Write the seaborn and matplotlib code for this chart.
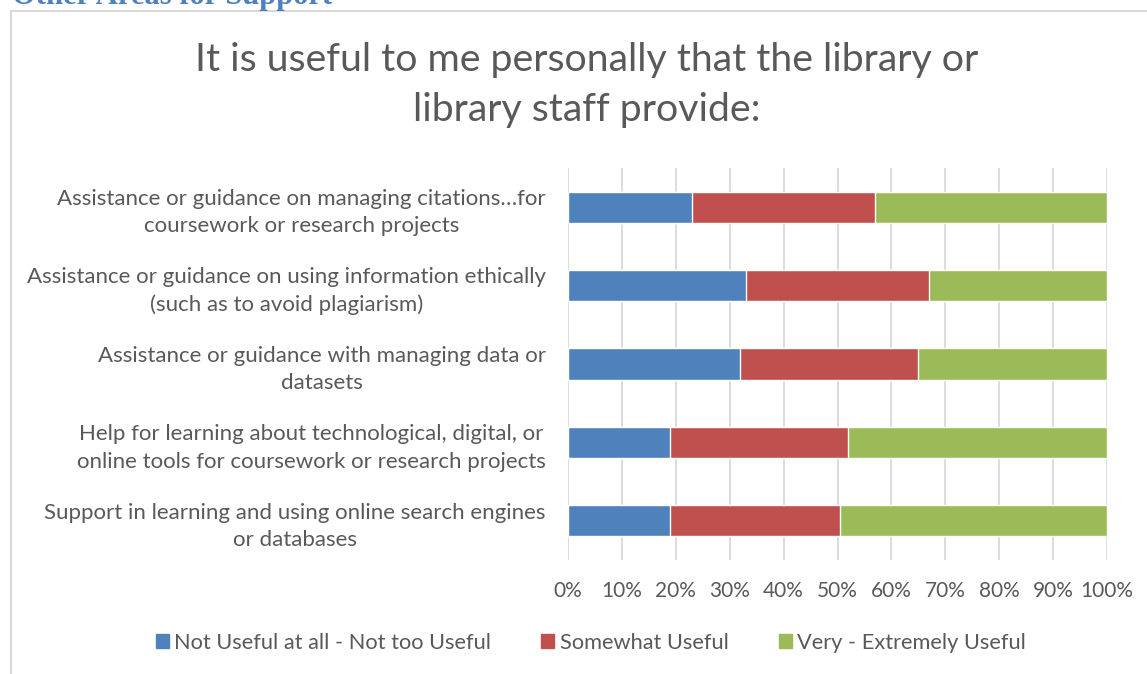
import matplotlib
matplotlib.use("Agg")
import matplotlib.pyplot as plt
import matplotlib.patches as mpatches
import seaborn as sns
import numpy as np
import pandas as pd

sns.set_theme(style="white")
plt.rcParams['font.family'] = ['Lato', 'DejaVu Sans']

# survey data (percent of respondents)
categories = [
    "Assistance or guidance on managing citations\u2026for\ncoursework or research projects",
    "Assistance or guidance on using information ethically\n(such as to avoid plagiarism)",
    "Assistance or guidance with managing data or\ndatasets",
    "Help for learning about technological, digital, or\nonline tools for coursework or research projects",
    "Support in learning and using online search engines\nor databases",
]
not_useful = [23, 33, 32, 19, 19]
somewhat = [34, 34, 33, 33, 31.5]
very = [43, 33, 35, 48, 49.5]
series_names = ["Not Useful at all - Not too Useful", "Somewhat Useful", "Very - Extremely Useful"]
colors = ["#4F81BD", "#C0504D", "#9BBB59"]
xticks = list(range(0, 101, 10))

df = pd.DataFrame({"cat": categories, "a": not_useful, "b": somewhat, "c": very})
df["ab"] = df["a"] + df["b"]
df["abc"] = df["ab"] + df["c"]

fig = plt.figure(figsize=(11.47, 6.74), dpi=100)
ax = fig.add_axes([568 / 1147, 1 - 560 / 674, (1107 - 568) / 1147, (560 - 168) / 674])

# stacked by overlaying cumulative totals
sns.barplot(data=df, y="cat", x="abc", color=colors[2], width=0.4, ax=ax, orient="h", saturation=1, zorder=3)
sns.barplot(data=df, y="cat", x="ab", color=colors[1], width=0.4, ax=ax, orient="h", saturation=1, zorder=3)
sns.barplot(data=df, y="cat", x="a", color=colors[0], width=0.4, ax=ax, orient="h", saturation=1, zorder=3)

ax.set_xlim(0, 100)
ax.set_ylim(4.5, -0.5)
ax.set_xticks(xticks)
ax.set_xticklabels([f"{t}%" for t in xticks])
ax.xaxis.grid(True, color="#D9D9D9", linewidth=1.3, zorder=0)
ax.set_axisbelow(True)
for s in ax.spines.values():
    s.set_visible(False)
ax.set_xlabel("")
ax.set_ylabel("")
ax.tick_params(axis="both", length=0, colors="#595959")
ax.tick_params(axis="x", labelsize=15, pad=15)
ax.tick_params(axis="y", labelsize=16, pad=16)
for lbl in ax.get_yticklabels():
    lbl.set_multialignment("center")
    lbl.set_color("#595959")
    lbl.set_linespacing(1.45)
for lbl in ax.get_xticklabels():
    lbl.set_color("#595959")

fig.text(587 / 1147, 1 - 85 / 674,
         "It is useful to me personally that the library or\nlibrary staff provide:",
         ha="center", va="center", fontsize=28.3, color="#595959", linespacing=1.5)

handles = [mpatches.Patch(color=c, label=n) for c, n in zip(colors, series_names)]
fig.legend(handles=handles, loc="center", bbox_to_anchor=(591 / 1147, 1 - 643 / 674), ncol=3,
           frameon=False, fontsize=15.7, handlelength=0.6, handleheight=0.6, handletextpad=0.25,
           columnspacing=2.3, labelcolor="#595959")

# chart frame and cut-off section heading
fig.patches.append(mpatches.Rectangle((11 / 1147, -0.1), 1.2, 1 - 11 / 674 + 0.1,
                                      transform=fig.transFigure, fill=False,
                                      edgecolor="#D9D9D9", linewidth=1.5))
fig.text(12 / 1147, 1 - 4 / 674, "Other Areas for Support", ha="left", va="baseline",
         fontsize=22, fontweight="bold", color="#4F81BD", family=["Liberation Serif", "DejaVu Serif"])

fig.savefig("out.png", dpi=100)
